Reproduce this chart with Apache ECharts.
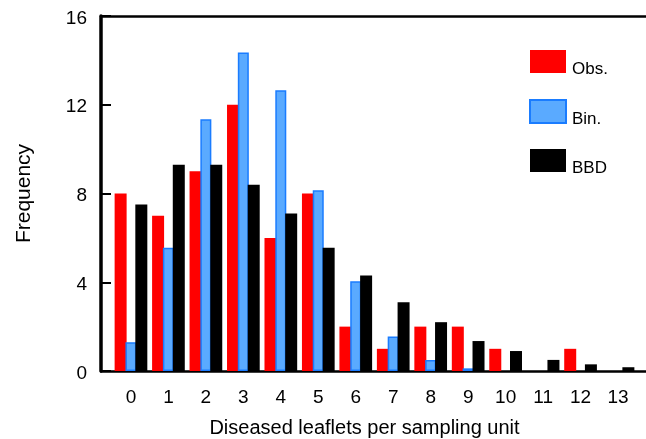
<!DOCTYPE html>
<html>
<head>
<meta charset="utf-8">
<script src="https://cdn.jsdelivr.net/npm/echarts@6/dist/echarts.min.js"></script>
<style>
html,body{margin:0;padding:0;background:#fff;}
#c{width:646px;height:439px;}
</style>
</head>
<body>
<div id="c"></div>
<script>
const categories = [0,1,2,3,4,5,6,7,8,9,10,11,12,13];
const obsValues = [8,7,9,12,6,8,2,1,2,2,1,0,1,0];
const binValues = [1.3,5.55,11.35,14.35,12.65,8.15,4.05,1.55,0.5,0.12,0,0,0,0];
const bbdValues = [7.5,9.3,9.3,8.4,7.1,5.55,4.3,3.1,2.2,1.35,0.9,0.5,0.3,0.17];
const yTicks = [0,4,8,12,16];
const seriesNames = ['Obs.','Bin.','BBD'];

const FONT = 'Liberation Sans, Arial, sans-serif';
const pair = vals => categories.map((c,i)=>[c, vals[i] === 0 ? '-' : vals[i]]);

const chart = echarts.init(document.getElementById('c'), null, {renderer:'canvas'});
chart.setOption({
  animation:false,
  backgroundColor:'#fff',
  grid:{left:101, right:-2, top:16, bottom:68, containLabel:false, outerBoundsMode:'none'},
  legend:{
    orient:'vertical', left:524, top:45,
    icon:'rect',
    itemWidth:36, itemHeight:23, itemGap:21.5,
    data:seriesNames,
    formatter:'{t|{name}}',
    textStyle:{fontFamily:FONT, fontSize:17, color:'#000',
      rich:{t:{fontFamily:FONT, fontSize:17, color:'#000', padding:[15,0,0,1]}}},
    selectedMode:false
  },
  xAxis:[{
    type:'value', min:-0.8, max:13.8,
    axisLine:{show:true, onZero:false, lineStyle:{color:'#000', width:2.5}},
    axisTick:{show:false},
    splitLine:{show:false},
    axisLabel:{customValues:categories, fontFamily:FONT, fontSize:19, color:'#000', margin:17},
    name:'Diseased leaflets per sampling unit',
    nameLocation:'middle', nameGap:47,
    nameTextStyle:{fontFamily:FONT, fontSize:20, color:'#000', padding:[0,20,0,0]}
  },{
    type:'value', min:-0.8, max:13.8, position:'top',
    axisLine:{show:true, onZero:false, lineStyle:{color:'#000', width:2.5}},
    axisTick:{show:false}, axisLabel:{show:false}, splitLine:{show:false}
  }],
  yAxis:{
    type:'value', min:0, max:16, interval:4,
    axisLine:{show:true, onZero:false, lineStyle:{color:'#000', width:3.5}},
    axisTick:{show:true, inside:true, length:10, lineStyle:{color:'#000', width:2}},
    splitLine:{show:false},
    axisLabel:{customValues:yTicks, fontFamily:FONT, fontSize:19, color:'#000', margin:14,
      formatter:'{v|{value}}', rich:{v:{fontFamily:FONT, fontSize:19, color:'#000', padding:[5,0,0,0]}}},
    name:'Frequency', nameLocation:'middle', nameGap:66,
    nameTextStyle:{fontFamily:FONT, fontSize:21, color:'#000'}
  },
  series:[
    {name:seriesNames[0], type:'bar', xAxisIndex:0, data:pair(obsValues), barWidth:12, barGap:'-10%',
     itemStyle:{color:'#ff0000'}},
    {name:seriesNames[1], type:'bar', xAxisIndex:0, data:pair(binValues), barWidth:11, barGap:'-10%',
     itemStyle:{color:'#5aaaff', borderColor:'#1a7cff', borderWidth:1.5}},
    {name:seriesNames[2], type:'bar', xAxisIndex:0, data:pair(bbdValues), barWidth:12, barGap:'-10%',
     itemStyle:{color:'#000000'}}
  ]
});
</script>
</body>
</html>
